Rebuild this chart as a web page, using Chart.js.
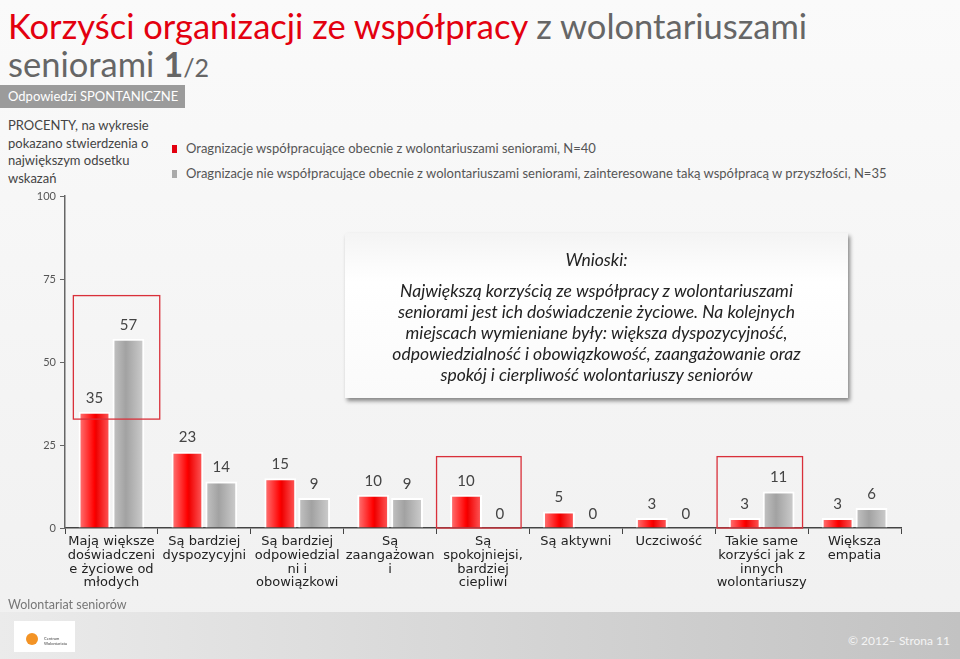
<!DOCTYPE html>
<html lang="pl">
<head>
    <meta charset="UTF-8">
    <title>Korzyści organizacji ze współpracy z wolontariuszami seniorami</title>
    <script src="https://cdn.jsdelivr.net/npm/chart.js"></script>
    <style>
        html, body {
            margin: 0;
            padding: 0;
        }
        body {
            width: 960px;
            height: 659px;
            position: relative;
            overflow: hidden;
            font-family: Lato, "Open Sans", sans-serif;
            background: linear-gradient(#fafafa, #f0f0f0);
            color: #555;
        }
        .title {
            position: absolute;
            left: 8px;
            top: 7px;
            font-size: 34.5px;
            line-height: 38px;
            color: #666;
            white-space: nowrap;
        }
        .title .red { color: #e3000f; }
        .title b { font-weight: 700; }
        .title small { font-size: 25px; }
        .tag {
            position: absolute;
            left: 0;
            top: 85px;
            width: 185px;
            height: 23px;
            background: #9b9b9b;
            color: #fff;
            font-size: 13px;
            line-height: 23px;
            padding-left: 8px;
            box-sizing: border-box;
        }
        .note {
            position: absolute;
            left: 8px;
            top: 117px;
            width: 160px;
            font-size: 13px;
            line-height: 17.5px;
            color: #444;
        }
        .legend {
            position: absolute;
            left: 172px;
            top: 140px;
            font-size: 13px;
            color: #555;
        }
        .legend div { height: 25px; line-height: 16px; }
        .legend span.sw {
            display: inline-block;
            width: 5px;
            height: 8px;
            margin-right: 9px;
            vertical-align: 0px;
        }
        #chartWrap {
            position: absolute;
            left: 0;
            top: 185px;
            width: 960px;
            height: 415px;
        }
        .box {
            position: absolute;
            left: 345px;
            top: 233px;
            width: 503px;
            height: 165px;
            background: linear-gradient(#f4f4f4, #ffffff 30%, #fafafa);
            box-shadow: 2px 3px 4px rgba(0,0,0,0.45);
            text-align: center;
            font-style: italic;
            font-size: 17.5px;
            line-height: 21px;
            color: #222;
            box-sizing: border-box;
            padding-top: 16px;
            white-space: nowrap;
        }
        .box p { margin: 0; }
        .box .head { margin-bottom: 10px; }
        .footer-label {
            position: absolute;
            left: 8px;
            top: 597px;
            font-size: 12.5px;
            color: #777;
        }
        .footer {
            position: absolute;
            left: 0;
            top: 612px;
            width: 960px;
            height: 47px;
            background: linear-gradient(to right, #ebebeb, #c2c2c2);
        }
        .logo {
            position: absolute;
            left: 14px;
            top: 9px;
            width: 61px;
            height: 31px;
            background: #fff;
        }
        .logo .sun {
            position: absolute;
            left: 12px;
            top: 12px;
            width: 12px;
            height: 12px;
            border-radius: 50%;
            background: #f39325;
        }
        .logo .txt {
            position: absolute;
            left: 30px;
            top: 15px;
            font-size: 4px;
            color: #444;
            line-height: 5px;
        }
        .copy {
            position: absolute;
            right: 10px;
            top: 21px;
            font-size: 12px;
            color: #f4f4f4;
        }
    </style>
</head>
<body>

<div class="title"><span class="red">Korzyści organizacji ze współpracy</span> z wolontariuszami<br>seniorami <b>1</b><small>/2</small></div>
<div class="tag">Odpowiedzi SPONTANICZNE</div>
<div class="note">PROCENTY, na wykresie pokazano stwierdzenia o największym odsetku wskazań</div>

<div class="legend">
    <div><span class="sw" style="background:#e3000f"></span>Oragnizacje współpracujące obecnie z wolontariuszami seniorami, N=40</div>
    <div><span class="sw" style="background:#aaa"></span>Oragnizacje nie współpracujące obecnie z wolontariuszami seniorami, zainteresowane taką współpracą w przyszłości, N=35</div>
</div>

<div id="chartWrap"><canvas id="chart" width="960" height="415"></canvas></div>

<div class="box">
    <p class="head">Wnioski:</p>
    <p>Największą korzyścią ze współpracy z wolontariuszami<br>seniorami jest ich doświadczenie życiowe. Na kolejnych<br>miejscach wymieniane były: większa dyspozycyjność,<br>odpowiedzialność i obowiązkowość, zaangażowanie oraz<br>spokój i cierpliwość wolontariuszy seniorów</p>
</div>

<div class="footer-label">Wolontariat seniorów</div>
<div class="footer">
    <div class="logo"><div class="sun"></div><div class="txt">Centrum<br>Wolontariatu</div></div>
    <div class="copy">© 2012– Strona 11</div>
</div>

<script>
    // categories (multi-line as in the slide)
    const categories = [
        ["Mają większe", "doświadczeni", "e życiowe od", "młodych"],
        ["Są bardziej", "dyspozycyjni"],
        ["Są bardziej", "odpowiedzial", "ni i", "obowiązkowi"],
        ["Są", "zaangażowan", "i"],
        ["Są", "spokojniejsi,", "bardziej", "ciepliwi"],
        ["Są aktywni"],
        ["Uczciwość"],
        ["Takie same", "korzyści jak z", "innych", "wolontariuszy"],
        ["Większa", "empatia"]
    ];
    const seriesNames = [
        "Oragnizacje współpracujące obecnie z wolontariuszami seniorami, N=40",
        "Oragnizacje nie współpracujące obecnie z wolontariuszami seniorami, zainteresowane taką współpracą w przyszłości, N=35"
    ];
    const cooperating = [35, 23, 15, 10, 10, 5, 3, 3, 3];
    const interested = [57, 14, 9, 9, 0, 0, 0, 11, 6];
    const yTicks = [0, 25, 50, 75, 100];

    // highlight frames, in axis units (category index / percent)
    const highlightXFrom = [-0.41, 3.5, 6.52];
    const highlightXTo = [0.52, 4.41, 7.44];
    const highlightYFrom = [32.8, 0, 0];
    const highlightYTo = [70, 21.5, 21.5];

    const CAT_PCT = 0.73;
    const BAR_PCT = 0.94;

    function barGradient(ctx, stops) {
        const chart = ctx.chart;
        const xs = chart.scales.x;
        const fallback = stops[1][1];
        if (!xs || ctx.dataIndex === undefined || !Number.isFinite(xs.width) || xs.width <= 0) return fallback;
        const catW = xs.width / categories.length;
        const slot = catW * CAT_PCT / 2;
        const mid = xs.getPixelForValue(ctx.dataIndex);
        if (!Number.isFinite(mid)) return fallback;
        const center = mid + (ctx.datasetIndex === 0 ? -slot / 2 : slot / 2);
        const w = slot * BAR_PCT;
        const g = chart.ctx.createLinearGradient(center - w / 2, 0, center + w / 2, 0);
        stops.forEach(s => g.addColorStop(s[0], s[1]));
        return g;
    }

    const redStops = [[0, "#ff7b7b"], [0.5, "#ff0000"], [0.55, "#f00000"], [1, "#ff5e5e"]];
    const greyStops = [[0, "#c4c4c4"], [0.42, "#a2a2a2"], [1, "#cecece"]];

    const valueLabels = {
        id: "valueLabels",
        afterDatasetsDraw(chart) {
            const c = chart.ctx;
            c.save();
            c.fillStyle = "#444";
            c.font = "15px Lato, sans-serif";
            c.textAlign = "center";
            c.textBaseline = "middle";
            chart.data.datasets.forEach((ds, di) => {
                chart.getDatasetMeta(di).data.forEach((el, i) => {
                    c.fillText(String(ds.data[i]), el.x, el.y - 14);
                });
            });
            c.restore();
        }
    };

    const highlightBoxes = {
        id: "highlightBoxes",
        afterDatasetsDraw(chart) {
            const c = chart.ctx;
            const xs = chart.scales.x, ys = chart.scales.y;
            const catW = xs.width / categories.length;
            c.save();
            c.strokeStyle = "#d9303a";
            c.lineWidth = 1.3;
            highlightXFrom.forEach((x0, k) => {
                const left = xs.getPixelForValue(0) + x0 * catW;
                const right = xs.getPixelForValue(0) + highlightXTo[k] * catW;
                const top = ys.getPixelForValue(highlightYTo[k]);
                const bottom = ys.getPixelForValue(highlightYFrom[k]);
                c.strokeRect(left, top, right - left, bottom - top);
            });
            c.restore();
        }
    };

    new Chart(document.getElementById("chart"), {
        type: "bar",
        data: {
            labels: categories,
            datasets: [
                {
                    label: seriesNames[0],
                    data: cooperating,
                    backgroundColor: ctx => barGradient(ctx, redStops),
                    borderColor: "#ffffff",
                    borderWidth: 2
                },
                {
                    label: seriesNames[1],
                    data: interested,
                    backgroundColor: ctx => barGradient(ctx, greyStops),
                    borderColor: "#ffffff",
                    borderWidth: 2
                }
            ]
        },
        options: {
            responsive: false,
            animation: false,
            categoryPercentage: CAT_PCT,
            barPercentage: BAR_PCT,
            layout: { padding: { left: 15, right: 59, top: 11, bottom: 0 } },
            plugins: {
                legend: { display: false },
                tooltip: { enabled: false }
            },
            scales: {
                x: {
                    afterFit: s => { s.height = 72; },
                    grid: { drawOnChartArea: false, tickLength: 6, color: "#444", offset: true },
                    border: { color: "#444", width: 1.5 },
                    ticks: {
                        color: "#222",
                        font: { family: "DejaVu Sans", size: 13, lineHeight: 1.05 },
                        maxRotation: 0,
                        autoSkip: false,
                        padding: 1
                    }
                },
                y: {
                    min: 0,
                    max: 100,
                    afterFit: s => { s.width = 50; },
                    afterBuildTicks: s => { s.ticks = yTicks.map(v => ({ value: v })); },
                    grid: { drawOnChartArea: false, tickLength: 5, color: "#666" },
                    border: { color: "#666", width: 1.5 },
                    ticks: {
                        color: "#555",
                        font: { family: "Lato", size: 11 },
                        padding: 4
                    }
                }
            }
        },
        plugins: [valueLabels, highlightBoxes]
    });
</script>

</body>
</html>
